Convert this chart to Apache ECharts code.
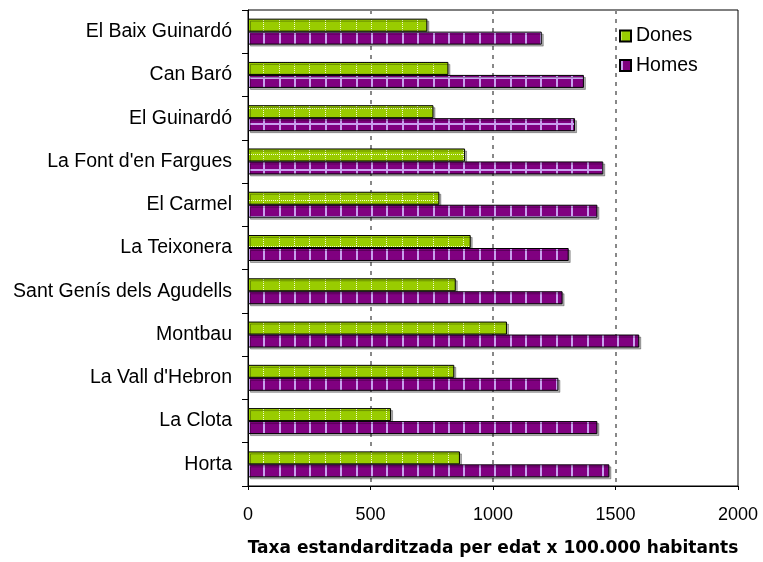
<!DOCTYPE html>
<html>
<head>
<meta charset="utf-8">
<script src="https://cdn.jsdelivr.net/npm/echarts@6/dist/echarts.min.js"></script>
<style>
html,body{margin:0;padding:0;background:#fff;}
#chart{width:763px;height:562px;}
</style>
</head>
<body>
<div id="chart"></div>
<script>
const categories = ["El Baix Guinardó","Can Baró","El Guinardó","La Font d'en Fargues","El Carmel","La Teixonera","Sant Genís dels Agudells","Montbau","La Vall d'Hebron","La Clota","Horta"];
const dones = [732, 818, 757, 886, 781, 909, 848, 1057, 842, 584, 865];
const homes = [1199, 1371, 1335, 1450, 1426, 1309, 1284, 1597, 1267, 1426, 1475];
const xTicks = [0, 500, 1000, 1500, 2000];
const seriesNames = ["Dones", "Homes"];
const axisTitle = "Taxa estandarditzada per edat x 100.000 habitants";

function makePattern(bg, lineColor, dotted, hRows) {
  const w = 77, h = 231;
  const c = document.createElement('canvas');
  c.width = w; c.height = h;
  const ctx = c.getContext('2d');
  ctx.fillStyle = bg;
  ctx.fillRect(0, 0, w, h);
  ctx.fillStyle = lineColor;
  const vcols = [1, 17, 32, 48, 63];
  vcols.forEach(function (vx) {
    if (dotted) {
      for (let y = 0; y < h; y += 2) ctx.fillRect(vx, y, 1, 1);
    } else {
      ctx.fillRect(vx, 0, 2, h);
    }
  });
  hRows.forEach(function (hy) {
    if (dotted) {
      for (let x = 0; x < w; x += 2) ctx.fillRect(x, hy, 1, 1);
    } else {
      ctx.fillRect(0, hy, w, 2);
    }
  });
  return c;
}

const greenPat = makePattern('#99CC00', '#f2fad0', true, [15, 62, 108, 154, 200]);
const purplePat = makePattern('#800080', '#c9a0ee', false, [31, 77, 123, 169, 216]);

const chart = echarts.init(document.getElementById('chart'), null, {renderer: 'canvas'});
const font = '"Liberation Sans", Arial, sans-serif';

function barStyle(pat) {
  return {
    color: {image: pat, repeat: 'repeat'},
    borderColor: '#000',
    borderWidth: 1,
    shadowColor: 'rgba(0,0,0,0.3)',
    shadowOffsetX: 2,
    shadowOffsetY: 2,
    shadowBlur: 0.5
  };
}

chart.setOption({
  animation: false,
  backgroundColor: '#fff',
  grid: {
    left: 248, right: 25, top: 10, bottom: 76,
    show: true, borderColor: '#000', borderWidth: 1, backgroundColor: 'transparent'
  },
  legend: {
    data: seriesNames,
    orient: 'vertical',
    left: 619,
    top: 26,
    padding: 0,
    icon: 'rect',
    itemWidth: 11,
    itemHeight: 11,
    itemGap: 9.5,
    textStyle: {fontFamily: font, fontSize: 19.5, color: '#000', lineHeight: 19}
  },
  xAxis: {
    type: 'value',
    min: xTicks[0],
    max: xTicks[xTicks.length - 1],
    interval: xTicks[1] - xTicks[0],
    name: axisTitle,
    nameLocation: 'middle',
    nameGap: 54,
    nameTextStyle: {fontFamily: '"DejaVu Sans", sans-serif', fontWeight: 'bold', fontSize: 17, color: '#000'},
    axisLine: {show: true, lineStyle: {color: '#000', width: 1}},
    axisTick: {show: true, length: 4, inside: false, lineStyle: {color: '#000'}},
    axisLabel: {fontFamily: font, fontSize: 18, color: '#000', margin: 20, formatter: function (v) { return String(v); }},
    splitLine: {show: true, showMinLine: false, showMaxLine: false, lineStyle: {color: '#888', type: [4, 5], width: 2}}
  },
  yAxis: {
    type: 'category',
    data: categories,
    inverse: true,
    axisLine: {show: true, lineStyle: {color: '#000', width: 1}},
    axisTick: {show: true, length: 6, inside: false, lineStyle: {color: '#000'}},
    axisLabel: {fontFamily: font, fontSize: 19.5, color: '#000', margin: 16, padding: [0, 0, 5, 0]},
    splitLine: {show: false}
  },
  series: [
    {
      name: seriesNames[0], type: 'bar', data: dones,
      barGap: '0%', barCategoryGap: '40%',
      itemStyle: barStyle(greenPat)
    },
    {
      name: seriesNames[1], type: 'bar', data: homes,
      barGap: '0%', barCategoryGap: '40%',
      itemStyle: barStyle(purplePat)
    }
  ]
});
</script>
</body>
</html>
